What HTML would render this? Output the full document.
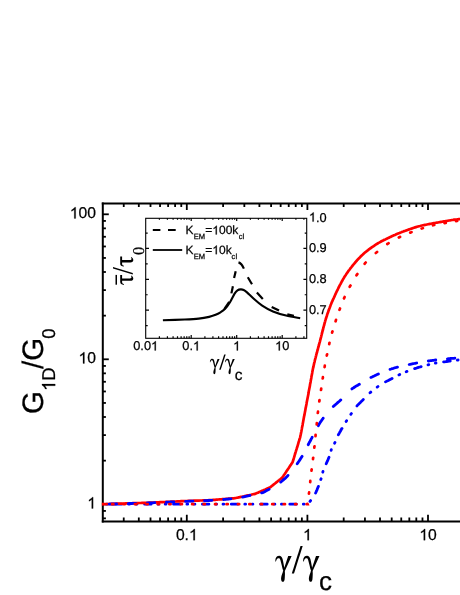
<!DOCTYPE html>
<html><head><meta charset="utf-8"><title>chart</title>
<style>html,body{margin:0;padding:0;background:#fff}svg{display:block}text{filter:grayscale(1);text-rendering:geometricPrecision;stroke:#000;stroke-width:0.25px}</style></head>
<body>
<svg width="460" height="595" viewBox="0 0 460 595">
<rect width="460" height="595" fill="#fff"/>
<g stroke="#000" stroke-width="2" fill="none" stroke-linecap="butt">
<path d="M102.8,522.45 V202.5"/>
<path d="M101.8,203.5 H460"/>
<path d="M101.8,521.45 H460"/>
</g>
<g stroke="#000" stroke-width="1.8" fill="none">
<path d="M123.74,521.45 v-4.0 M123.74,203.5 v3.5"/>
<path d="M138.81,521.45 v-4.0 M138.81,203.5 v3.5"/>
<path d="M150.50,521.45 v-4.0 M150.50,203.5 v3.5"/>
<path d="M160.05,521.45 v-4.0 M160.05,203.5 v3.5"/>
<path d="M168.12,521.45 v-4.0 M168.12,203.5 v3.5"/>
<path d="M175.11,521.45 v-4.0 M175.11,203.5 v3.5"/>
<path d="M181.28,521.45 v-4.0 M181.28,203.5 v3.5"/>
<path d="M186.80,521.45 v-6.8 M186.80,203.5 v6.5"/>
<path d="M223.10,521.45 v-4.0 M223.10,203.5 v3.5"/>
<path d="M244.34,521.45 v-4.0 M244.34,203.5 v3.5"/>
<path d="M259.41,521.45 v-4.0 M259.41,203.5 v3.5"/>
<path d="M271.10,521.45 v-4.0 M271.10,203.5 v3.5"/>
<path d="M280.65,521.45 v-4.0 M280.65,203.5 v3.5"/>
<path d="M288.72,521.45 v-4.0 M288.72,203.5 v3.5"/>
<path d="M295.71,521.45 v-4.0 M295.71,203.5 v3.5"/>
<path d="M301.88,521.45 v-4.0 M301.88,203.5 v3.5"/>
<path d="M307.40,521.45 v-6.8 M307.40,203.5 v6.5"/>
<path d="M343.70,521.45 v-4.0 M343.70,203.5 v3.5"/>
<path d="M364.94,521.45 v-4.0 M364.94,203.5 v3.5"/>
<path d="M380.01,521.45 v-4.0 M380.01,203.5 v3.5"/>
<path d="M391.70,521.45 v-4.0 M391.70,203.5 v3.5"/>
<path d="M401.25,521.45 v-4.0 M401.25,203.5 v3.5"/>
<path d="M409.32,521.45 v-4.0 M409.32,203.5 v3.5"/>
<path d="M416.31,521.45 v-4.0 M416.31,203.5 v3.5"/>
<path d="M422.48,521.45 v-4.0 M422.48,203.5 v3.5"/>
<path d="M428.00,521.45 v-6.8 M428.00,203.5 v6.5"/>
<path d="M102.7,518.35 h3.2"/>
<path d="M102.7,510.93 h3.2"/>
<path d="M102.7,504.30 h6.1"/>
<path d="M102.7,460.65 h3.2"/>
<path d="M102.7,435.12 h3.2"/>
<path d="M102.7,417.00 h3.2"/>
<path d="M102.7,402.95 h3.2"/>
<path d="M102.7,391.47 h3.2"/>
<path d="M102.7,381.76 h3.2"/>
<path d="M102.7,373.35 h3.2"/>
<path d="M102.7,365.93 h3.2"/>
<path d="M102.7,359.30 h6.1"/>
<path d="M102.7,315.65 h3.2"/>
<path d="M102.7,290.12 h3.2"/>
<path d="M102.7,272.00 h3.2"/>
<path d="M102.7,257.95 h3.2"/>
<path d="M102.7,246.47 h3.2"/>
<path d="M102.7,236.76 h3.2"/>
<path d="M102.7,228.35 h3.2"/>
<path d="M102.7,220.93 h3.2"/>
<path d="M102.7,214.30 h6.1"/>
</g>
<clipPath id="pc"><rect x="101.9" y="204.5" width="360" height="315.9"/></clipPath><g clip-path="url(#pc)">
<path d="M106.5,504.2 L107.3,504.2 M115.0,504.2 L116.1,504.2 L117.1,504.2 L118.1,504.2 L119.1,504.2 L120.1,504.2 L121.1,504.2 L121.7,504.2 M128.7,504.2 L129.5,504.2 M136.1,504.2 L136.9,504.2 M144.6,504.2 L145.7,504.2 L146.7,504.2 L147.7,504.2 L148.7,504.2 L149.7,504.2 L150.7,504.2 L151.1,504.2 M158.0,504.2 L158.8,504.2 M165.2,504.2 L166.0,504.2 M173.5,504.2 L174.5,504.2 L175.5,504.2 L176.5,504.2 L177.5,504.2 L178.5,504.2 L179.5,504.2 L180.0,504.2 M186.9,504.2 L187.7,504.2 M194.1,504.2 L194.9,504.2 M202.4,504.2 L203.5,504.2 L204.5,504.2 L205.6,504.2 L206.6,504.2 L207.6,504.2 L208.6,504.2 L208.9,504.2 M215.8,504.2 L216.6,504.2 M223.0,504.2 L223.8,504.2 M231.3,504.2 L232.4,504.2 L233.4,504.2 L234.4,504.2 L235.4,504.2 L236.4,504.2 L237.4,504.2 L237.9,504.2 M244.8,504.2 L245.6,504.2 M252.2,504.2 L252.9,504.2 M260.6,504.2 L261.6,504.2 L262.6,504.2 L263.6,504.2 L264.6,504.2 L265.6,504.2 L266.6,504.2 L267.2,504.2 M274.1,504.2 L274.9,504.2 M281.4,504.2 L282.2,504.2 M289.8,504.2 L291.0,504.2 L292.0,504.2 L293.0,504.2 L294.0,504.2 L295.0,504.2 L296.0,504.2 L296.4,504.2 M303.3,504.2 L304.1,504.2 M310.0,501.4 L310.6,500.6 M315.6,493.0 L316.0,492.1 L316.4,491.1 L316.9,490.1 L317.3,489.1 L317.7,488.1 L318.1,487.1 L318.4,486.4 M320.8,479.5 L321.1,478.7 M322.8,472.2 L323.0,471.4 M326.2,463.8 L326.6,462.9 L327.0,461.9 L327.5,460.9 L327.9,459.9 L328.3,458.9 L328.7,457.9 L329.0,457.3 M331.1,450.4 L331.3,449.6 M334.6,443.2 L335.0,442.4 M338.3,434.9 L338.8,434.0 L339.3,433.1 L339.8,432.1 L340.4,431.2 L340.9,430.3 L341.4,429.3 L341.9,428.5 L342.0,428.4 M346.1,421.5 L346.6,420.7 M350.8,414.3 L351.4,413.5 M356.9,406.0 L357.6,405.1 L358.3,404.4 L359.1,403.7 L359.8,402.9 L360.6,402.2 L361.3,401.4 L362.1,400.7 L362.8,400.0 L363.3,399.5 M370.0,392.8 L370.8,392.1 M377.2,387.1 L378.0,386.5 M385.5,381.9 L386.4,381.4 L387.3,380.9 L388.3,380.5 L389.2,380.0 L390.1,379.5 L391.1,379.0 L392.0,378.6 L392.1,378.5 M398.9,374.9 L399.7,374.5 M406.2,371.7 L407.0,371.4 M414.6,368.6 L415.6,368.3 L416.6,368.0 L417.6,367.6 L418.6,367.3 L419.6,367.0 L420.6,366.8 L421.1,366.6 M428.0,364.9 L428.8,364.7 M435.3,363.1 L436.0,363.0 M443.6,361.9 L444.7,361.8 L445.7,361.7 L446.8,361.5 L447.9,361.4 L449.0,361.2 L450.0,361.1 L450.3,361.1 M457.3,360.1 L458.1,360.0" fill="none" stroke="#0000ff" stroke-width="2.8" stroke-linecap="round"/>
<path d="M101.5,504.2 L102.5,504.2 L103.5,504.1 L104.5,504.1 L105.5,504.1 L106.6,504.0 L107.6,504.0 L108.6,504.0 L109.6,503.9 L110.6,503.9 L111.6,503.9 L112.6,503.9 L113.6,503.8 L114.6,503.8 L115.6,503.8 L116.7,503.7 L117.7,503.7 L118.7,503.7 L119.7,503.6 L120.7,503.6 L121.7,503.6 L122.7,503.5 L123.7,503.5 L124.7,503.5 L125.8,503.4 L126.8,503.4 L127.8,503.4 L128.8,503.4 L129.8,503.3 L130.8,503.3 L131.8,503.3 L132.8,503.2 L133.8,503.2 L134.8,503.2 L135.9,503.1 L136.9,503.1 L137.9,503.1 L138.9,503.0 L139.9,503.0 L140.9,503.0 L141.9,502.9 L142.9,502.9 L143.9,502.9 L144.9,502.9 L146.0,502.8 L147.0,502.8 L148.0,502.8 L149.0,502.7 L150.0,502.7 L151.0,502.7 L152.0,502.6 L153.0,502.6 L154.0,502.5 L155.0,502.5 L156.0,502.4 L157.0,502.4 L158.0,502.3 L159.0,502.3 L160.0,502.2 L161.0,502.2 L162.0,502.1 L163.0,502.1 L164.0,502.0 L165.0,502.0 L166.0,501.9 L167.0,501.9 L168.0,501.9 L169.0,501.8 L170.0,501.8 L171.0,501.7 L172.0,501.7 L173.0,501.6 L174.0,501.6 L175.0,501.5 L176.0,501.5 L177.0,501.4 L178.0,501.4 L179.0,501.3 L180.0,501.3 L181.0,501.2 L182.0,501.2 L183.0,501.1 L184.0,501.1 L185.0,501.0 L186.0,501.0 L187.0,501.0 L188.0,500.9 L189.0,500.9 L190.0,500.9 L191.0,500.8 L192.0,500.8 L193.0,500.8 L194.0,500.7 L195.0,500.7 L196.0,500.7 L197.0,500.6 L198.0,500.6 L199.0,500.6 L200.0,500.5 L201.0,500.5 L202.0,500.5 L203.0,500.4 L204.0,500.4 L205.0,500.4 L206.0,500.3 L207.0,500.3 L208.0,500.3 L209.0,500.2 L210.0,500.2 L211.0,500.1 L212.1,500.0 L213.1,499.9 L214.1,499.9 L215.2,499.8 L216.2,499.7 L217.2,499.6 L218.3,499.5 L219.3,499.4 L220.3,499.4 L221.4,499.3 L222.4,499.2 L223.4,499.1 L224.5,499.0 L225.5,498.9 L226.5,498.9 L227.6,498.8 L228.6,498.7 L229.6,498.6 L230.7,498.5 L231.7,498.4 L232.7,498.4 L233.8,498.3 L234.8,498.2 L235.8,498.0 L236.8,497.8 L237.8,497.6 L238.8,497.3 L239.9,497.1 L240.9,496.9 L241.9,496.7 L242.9,496.5 L243.9,496.3 L244.9,496.0 L245.9,495.8 L246.9,495.6 L247.9,495.4 L248.9,495.2 L249.9,495.0 L251.0,494.8 L252.0,494.5 L253.0,494.3 L254.0,494.1 L255.0,493.9 L255.9,493.5 L256.9,493.1 L257.9,492.7 L258.8,492.2 L259.8,491.8 L260.7,491.4 L261.6,491.0 L262.6,490.6 L263.6,490.2 L264.5,489.8 L265.4,489.4 L266.4,488.9 L267.3,488.5 L268.3,488.1 L269.2,487.7 L270.2,487.3 L271.0,486.7 L271.8,486.0 L272.6,485.4 L273.4,484.7 L274.2,484.1 L275.0,483.5 L275.8,482.8 L276.6,482.2 L277.4,481.5 L278.2,480.9 L279.0,480.3 L279.8,479.6 L280.6,479.0 L281.4,478.3 L282.2,477.7 L282.8,476.8 L283.4,476.0 L283.9,475.1 L284.5,474.3 L285.1,473.4 L285.7,472.5 L286.2,471.7 L286.8,470.8 L287.4,469.9 L288.0,469.1 L288.6,468.2 L289.1,467.4 L289.7,466.5 L290.3,465.6 L290.9,464.8 L291.4,463.9 L292.0,463.1 L292.6,462.2 L292.9,461.2 L293.2,460.3 L293.5,459.3 L293.8,458.3 L294.1,457.4 L294.4,456.4 L294.6,455.4 L294.9,454.5 L295.2,453.5 L295.5,452.5 L295.8,451.6 L296.1,450.6 L296.4,449.6 L296.7,448.7 L297.0,447.7 L297.3,446.8 L297.6,445.8 L297.9,444.8 L298.2,443.9 L298.4,442.9 L298.7,441.9 L299.0,441.0 L299.3,440.0 L299.6,439.0 L299.9,438.1 L300.2,437.1 L300.3,436.6 L300.4,435.9 L300.6,435.2 L300.8,434.3 L301.0,433.1 L301.3,431.7 L301.6,430.0 L301.7,429.3 L301.9,428.5 L302.0,427.7 L302.2,426.8 L302.4,425.9 L302.6,424.9 L302.7,423.9 L302.9,422.9 L303.1,421.9 L303.3,420.8 L303.5,419.7 L303.7,418.6 L303.9,417.5 L304.1,416.3 L304.4,415.2 L304.6,414.1 L304.8,412.9 L305.0,411.8 L305.2,410.7 L305.4,409.8 L305.5,408.8 L305.7,407.9 L305.9,406.9 L306.1,406.0 L306.3,405.0 L306.5,404.0 L306.6,403.0 L306.8,402.0 L307.0,401.0 L307.2,400.0 L307.4,399.0 L307.6,397.9 L307.8,396.9 L308.0,395.9 L308.2,394.9 L308.4,393.9 L308.6,392.8 L308.7,391.8 L308.9,390.8 L309.1,389.8 L309.3,388.8 L309.5,387.8 L309.7,386.8 L309.9,385.8 L310.0,384.8 L310.2,383.8 L310.4,382.9 L310.6,381.9 L310.7,380.9 L310.9,379.9 L311.1,378.9 L311.3,378.0 L311.4,377.0 L311.6,376.0 L311.8,375.0 L312.0,374.0 L312.2,373.0 L312.3,372.0 L312.5,371.1 L312.7,370.1 L312.9,369.1 L313.1,368.0 L313.4,367.0 L313.6,366.0 L313.8,365.0 L314.0,364.1 L314.2,363.1 L314.5,362.1 L314.7,361.2 L314.9,360.2 L315.2,359.2 L315.4,358.3 L315.7,357.3 L315.9,356.3 L316.2,355.3 L316.4,354.3 L316.7,353.3 L317.0,352.4 L317.2,351.4 L317.5,350.4 L317.8,349.4 L318.0,348.4 L318.3,347.4 L318.6,346.5 L318.8,345.5 L319.1,344.5 L319.3,343.6 L319.6,342.6 L319.9,341.6 L320.1,340.7 L320.4,339.7 L320.6,338.6 L320.9,337.6 L321.2,336.6 L321.4,335.6 L321.7,334.5 L321.9,333.5 L322.2,332.5 L322.4,331.5 L322.7,330.5 L323.0,329.5 L323.2,328.4 L323.5,327.4 L323.7,326.4 L324.0,325.5 L324.3,324.5 L324.5,323.5 L324.8,322.5 L325.1,321.6 L325.3,320.6 L325.6,319.7 L325.9,318.7 L326.2,317.8 L326.5,316.8 L326.9,315.7 L327.2,314.7 L327.5,313.7 L327.9,312.8 L328.2,311.8 L328.5,310.8 L328.9,309.9 L329.2,309.0 L329.6,308.0 L329.9,307.1 L330.3,306.2 L330.6,305.2 L331.0,304.3 L331.4,303.3 L331.8,302.3 L332.2,301.4 L332.7,300.4 L333.1,299.3 L333.6,298.3 L334.0,297.5 L334.4,296.6 L334.8,295.7 L335.2,294.8 L335.6,293.9 L336.0,293.0 L336.4,292.1 L336.9,291.2 L337.3,290.3 L337.8,289.3 L338.2,288.4 L338.7,287.5 L339.1,286.6 L339.6,285.6 L340.1,284.7 L340.6,283.8 L341.1,282.8 L341.6,281.9 L342.1,281.0 L342.6,280.1 L343.1,279.2 L343.6,278.4 L344.1,277.5 L344.7,276.6 L345.2,275.8 L345.8,274.9 L346.3,274.1 L346.9,273.2 L347.5,272.4 L348.1,271.5 L348.7,270.6 L349.4,269.8 L350.0,269.0 L350.6,268.1 L351.3,267.3 L351.9,266.5 L352.6,265.7 L353.2,264.8 L353.9,264.1 L354.5,263.3 L355.2,262.5 L355.9,261.7 L356.5,261.0 L357.2,260.2 L357.8,259.5 L358.5,258.8 L359.1,258.1 L359.8,257.5 L360.4,256.8 L361.2,256.0 L362.0,255.2 L362.8,254.5 L363.6,253.7 L364.4,253.0 L365.2,252.3 L366.1,251.7 L366.9,251.0 L367.7,250.4 L368.5,249.7 L369.3,249.1 L370.1,248.5 L370.9,248.0 L371.7,247.4 L372.5,246.8 L373.3,246.3 L374.1,245.8 L374.9,245.2 L375.7,244.7 L376.6,244.1 L377.6,243.5 L378.6,242.9 L379.6,242.4 L380.6,241.8 L381.5,241.3 L382.5,240.8 L383.5,240.3 L384.4,239.8 L385.4,239.4 L386.3,238.9 L387.2,238.5 L388.1,238.1 L388.9,237.7 L389.7,237.3 L390.5,236.9 L391.8,236.3 L392.9,235.8 L393.9,235.3 L394.9,234.9 L395.8,234.5 L396.7,234.1 L397.6,233.7 L398.6,233.3 L399.6,232.9 L400.5,232.5 L401.4,232.2 L402.4,231.8 L403.3,231.5 L404.3,231.1 L405.3,230.8 L406.3,230.4 L407.2,230.1 L408.2,229.7 L409.1,229.4 L410.0,229.1 L411.1,228.7 L412.1,228.4 L413.1,228.0 L414.0,227.7 L415.0,227.4 L416.0,227.1 L417.0,226.8 L418.0,226.5 L419.1,226.2 L420.0,226.0 L421.0,225.7 L422.0,225.5 L423.0,225.3 L424.0,225.1 L425.0,224.9 L426.0,224.7 L427.0,224.5 L428.0,224.3 L429.0,224.1 L430.0,223.9 L431.0,223.7 L432.0,223.5 L433.0,223.3 L434.0,223.1 L435.0,223.0 L436.0,222.8 L437.0,222.6 L438.0,222.5 L439.0,222.3 L440.0,222.1 L441.0,221.9 L441.9,221.8 L442.9,221.6 L443.9,221.4 L444.9,221.2 L445.9,221.0 L446.9,220.9 L447.9,220.7 L448.9,220.5 L449.9,220.4 L450.9,220.2 L451.9,220.0 L453.1,219.9 L454.2,219.7 L455.4,219.6 L456.6,219.5 L457.7,219.3 L458.8,219.2 L459.8,219.1 L460.7,219.0 L461.4,218.9 L462.0,218.8" fill="none" stroke="#ff0000" stroke-width="2.7" stroke-linejoin="round"/>
<path d="M109.1,504.1 L110.2,504.1 L111.4,504.0 L112.6,504.0 L113.6,504.0 L114.6,503.9 L115.7,503.9 L116.6,503.9 M128.2,503.6 L129.4,503.5 L130.5,503.5 L131.7,503.5 L132.9,503.4 L134.1,503.4 L135.2,503.4 L135.7,503.3 M147.3,503.0 L148.4,503.0 L149.5,502.9 L150.7,502.9 L151.9,502.8 L153.0,502.8 L154.2,502.7 L154.8,502.7 M166.4,502.2 L167.5,502.2 L168.5,502.1 L169.5,502.1 L170.7,502.0 L171.9,502.0 L173.1,501.9 L173.9,501.9 M185.5,501.4 L186.7,501.3 L187.9,501.3 L189.1,501.2 L190.2,501.2 L191.3,501.1 L192.4,501.1 L193.0,501.1 M204.5,500.7 L205.6,500.6 L206.8,500.6 L208.0,500.5 L209.0,500.5 L210.0,500.4 L211.2,500.3 L212.0,500.3 M223.6,499.5 L224.6,499.4 L225.7,499.3 L226.7,499.2 L227.7,499.1 L228.7,499.0 L229.7,498.9 L230.9,498.8 L231.0,498.8 M242.6,497.1 L243.7,496.9 L244.8,496.6 L245.8,496.4 L246.9,496.2 L247.9,496.0 L248.9,495.7 L249.9,495.5 L250.0,495.5 M261.6,492.9 L262.7,492.6 L263.7,492.2 L264.7,491.7 L265.8,491.1 L266.7,490.6 L267.7,490.1 L268.6,489.6 L269.1,489.3 M280.7,482.1 L281.5,481.5 L282.3,480.8 L283.1,480.1 L283.9,479.4 L284.8,478.7 L285.6,477.9 L286.5,477.0 L287.3,476.2 L288.0,475.4 M297.2,463.8 L297.8,462.9 L298.4,462.0 L299.1,461.0 L299.7,460.2 L300.2,459.3 L300.8,458.4 L301.3,457.6 L301.8,456.7 L302.1,456.3 M308.2,444.7 L308.7,443.8 L309.1,442.9 L309.6,442.1 L310.1,441.2 L310.6,440.3 L311.0,439.4 L311.5,438.5 L312.0,437.6 L312.2,437.2 M318.3,425.7 L318.8,424.8 L319.4,423.8 L320.0,422.8 L320.6,421.8 L321.3,420.9 L321.9,420.0 L322.5,419.1 L323.2,418.3 L323.2,418.2 M333.3,406.6 L334.1,405.8 L334.9,405.1 L335.6,404.5 L336.5,403.7 L337.4,402.9 L338.2,402.2 L339.1,401.5 L339.9,400.7 L340.8,399.9 M351.9,388.9 L352.8,388.2 L353.7,387.7 L354.7,387.0 L355.7,386.4 L356.7,385.8 L357.8,385.2 L358.8,384.6 L359.4,384.3 M370.9,377.4 L372.0,376.9 L373.0,376.4 L374.1,375.9 L375.1,375.4 L376.2,374.9 L377.1,374.5 L378.1,374.1 L378.4,374.0 M390.0,369.3 L391.1,369.0 L392.2,368.6 L393.3,368.3 L394.3,368.0 L395.4,367.7 L396.5,367.4 L397.5,367.1 M409.2,364.5 L410.2,364.3 L411.2,364.1 L412.2,363.9 L413.2,363.7 L414.2,363.5 L415.2,363.3 L416.2,363.1 L416.7,363.0 M428.3,361.0 L429.4,360.8 L430.4,360.7 L431.4,360.6 L432.6,360.4 L433.6,360.3 L434.6,360.1 L435.7,360.0 L435.8,360.0 M447.4,358.8 L448.5,358.7 L449.6,358.6 L450.6,358.5 L451.7,358.4 L452.8,358.4 L453.9,358.3 L454.9,358.2" fill="none" stroke="#0000ff" stroke-width="2.8" stroke-linecap="round"/>
<path d="M101.5,504.2 L101.9,504.2 M112.1,504.2 L113.1,504.2 L113.4,504.2 M123.5,504.2 L124.5,504.2 L124.8,504.2 M134.9,504.2 L136.1,504.2 L136.2,504.2 M146.4,504.2 L147.5,504.2 L147.7,504.2 M157.8,504.2 L158.9,504.2 L159.1,504.2 M169.3,504.2 L170.3,504.2 L170.6,504.2 M180.7,504.2 L181.7,504.2 L182.0,504.2 M192.1,504.2 L193.3,504.2 L193.4,504.2 M203.6,504.2 L204.8,504.2 L204.9,504.2 M215.0,504.2 L216.2,504.2 L216.3,504.2 M226.5,504.2 L227.6,504.2 L227.8,504.2 M237.9,504.2 L239.0,504.2 L239.2,504.2 M249.3,504.2 L250.4,504.2 L250.6,504.2 M260.8,504.2 L262.0,504.2 L262.1,504.2 M272.2,504.2 L273.4,504.2 L273.5,504.2 M283.7,504.2 L284.8,504.2 L285.0,504.2 M295.1,504.2 L296.2,504.2 L296.4,504.2 M306.6,504.2 L307.6,504.2 L307.5,503.9 M308.9,493.7 L309.1,492.7 L309.1,492.4 M310.2,482.2 L310.3,481.2 L310.3,480.9 M311.5,470.7 L311.6,469.6 L311.7,469.4 M313.0,459.1 L313.1,458.1 L313.2,457.8 M314.3,447.6 L314.4,446.5 L314.5,446.3 M315.5,436.1 L315.6,434.9 L315.6,434.8 M316.7,424.5 L316.8,423.4 L316.8,423.2 M317.8,413.0 L318.0,411.9 L318.0,411.7 M319.3,401.5 L319.5,400.3 L319.5,400.2 M321.0,390.0 L321.2,388.9 L321.2,388.6 M322.7,378.5 L322.9,377.5 L322.9,377.2 M324.6,367.1 L324.8,365.9 L324.8,365.7 M326.8,355.6 L327.0,354.5 L327.1,354.3 M329.2,344.2 L329.4,343.1 L329.5,342.8 M332.1,332.7 L332.4,331.6 L332.5,331.4 M335.6,321.3 L335.9,320.2 L336.0,319.9 M339.5,309.8 L339.9,308.8 L340.0,308.5 M344.0,298.4 L344.5,297.3 L344.6,297.0 M349.7,286.8 L350.3,285.8 L350.5,285.5 M356.5,275.3 L357.1,274.4 L357.4,274.0 M364.6,263.8 L365.3,263.0 L365.7,262.5 M375.8,253.0 L376.7,252.3 L377.1,251.9 M387.3,244.0 L388.3,243.4 L388.6,243.2 M398.8,237.5 L399.8,237.0 L400.1,236.9 M410.2,232.6 L411.2,232.3 L411.5,232.1 M421.6,228.5 L422.7,228.2 L422.9,228.1 M433.0,225.3 L434.2,225.0 L434.3,225.0 M444.5,223.1 L445.5,222.9 L445.8,222.9 M455.9,221.1 L457.0,220.9 L457.2,220.9" fill="none" stroke="#ff0000" stroke-width="2.7" stroke-linecap="round"/>
</g>
<g font-family="'Liberation Sans', sans-serif" font-size="15.7px" fill="#000">
<path transform="translate(69.81,218.40) scale(0.00767,-0.00767)" d="M763 0 L583 0 L583 1147 Q518 1085 412.5 1023 Q307 961 223 930 L223 1104 Q374 1175 487 1276 Q600 1377 647 1466 L763 1466 Z" stroke="#000" stroke-width="33"/><text x="78.54" y="218.40" font-size="15.70px">00</text>
<path transform="translate(78.54,363.40) scale(0.00767,-0.00767)" d="M763 0 L583 0 L583 1147 Q518 1085 412.5 1023 Q307 961 223 930 L223 1104 Q374 1175 487 1276 Q600 1377 647 1466 L763 1466 Z" stroke="#000" stroke-width="33"/><text x="87.27" y="363.40" font-size="15.70px">0</text>
<path transform="translate(87.27,508.40) scale(0.00767,-0.00767)" d="M763 0 L583 0 L583 1147 Q518 1085 412.5 1023 Q307 961 223 930 L223 1104 Q374 1175 487 1276 Q600 1377 647 1466 L763 1466 Z" stroke="#000" stroke-width="33"/>
<text x="175.89" y="540.20" font-size="15.70px">0.</text><path transform="translate(188.98,540.20) scale(0.00767,-0.00767)" d="M763 0 L583 0 L583 1147 Q518 1085 412.5 1023 Q307 961 223 930 L223 1104 Q374 1175 487 1276 Q600 1377 647 1466 L763 1466 Z" stroke="#000" stroke-width="33"/>
<path transform="translate(303.04,540.20) scale(0.00767,-0.00767)" d="M763 0 L583 0 L583 1147 Q518 1085 412.5 1023 Q307 961 223 930 L223 1104 Q374 1175 487 1276 Q600 1377 647 1466 L763 1466 Z" stroke="#000" stroke-width="33"/>
<path transform="translate(419.27,540.20) scale(0.00767,-0.00767)" d="M763 0 L583 0 L583 1147 Q518 1085 412.5 1023 Q307 961 223 930 L223 1104 Q374 1175 487 1276 Q600 1377 647 1466 L763 1466 Z" stroke="#000" stroke-width="33"/><text x="428.00" y="540.20" font-size="15.70px">0</text>
</g>
<path d="M0.23,6.39 C0.28,5.88 0.23,4.22 0.53,3.36 C0.83,2.50 1.44,1.70 2.04,1.25 C2.65,0.80 3.46,0.59 4.16,0.64 C4.87,0.69 5.72,0.99 6.27,1.55 C6.82,2.10 7.13,2.86 7.48,3.97 C7.83,5.08 8.10,6.76 8.39,8.20 C8.68,9.64 9.06,11.87 9.20,12.60 L13.1,0.95 L16.55,0.95 L9.75,15.9 C9.77,16.30 9.85,17.42 9.85,18.30 C9.85,19.18 9.81,20.16 9.75,21.20 C9.69,22.24 9.66,23.67 9.48,24.53 C9.30,25.39 8.99,25.99 8.69,26.34 C8.39,26.69 8.01,26.69 7.66,26.64 C7.31,26.59 6.85,26.49 6.57,26.04 C6.29,25.59 5.98,24.84 5.97,23.92 C5.96,23.00 6.25,21.55 6.50,20.50 C6.75,19.45 7.22,18.43 7.50,17.60 C7.78,16.77 8.04,15.85 8.15,15.50 C8.01,15.09 7.61,14.12 7.30,13.04 C6.99,11.96 6.62,10.26 6.30,9.00 C5.98,7.74 5.70,6.43 5.40,5.50 C5.10,4.57 4.88,3.78 4.50,3.40 C4.12,3.02 3.56,3.07 3.10,3.20 C2.64,3.33 2.12,3.67 1.74,4.20 C1.36,4.73 0.98,6.02 0.83,6.39 Z" transform="translate(275.1,555.1)"/>
<path d="M0.23,6.39 C0.28,5.88 0.23,4.22 0.53,3.36 C0.83,2.50 1.44,1.70 2.04,1.25 C2.65,0.80 3.46,0.59 4.16,0.64 C4.87,0.69 5.72,0.99 6.27,1.55 C6.82,2.10 7.13,2.86 7.48,3.97 C7.83,5.08 8.10,6.76 8.39,8.20 C8.68,9.64 9.06,11.87 9.20,12.60 L13.1,0.95 L16.55,0.95 L9.75,15.9 C9.77,16.30 9.85,17.42 9.85,18.30 C9.85,19.18 9.81,20.16 9.75,21.20 C9.69,22.24 9.66,23.67 9.48,24.53 C9.30,25.39 8.99,25.99 8.69,26.34 C8.39,26.69 8.01,26.69 7.66,26.64 C7.31,26.59 6.85,26.49 6.57,26.04 C6.29,25.59 5.98,24.84 5.97,23.92 C5.96,23.00 6.25,21.55 6.50,20.50 C6.75,19.45 7.22,18.43 7.50,17.60 C7.78,16.77 8.04,15.85 8.15,15.50 C8.01,15.09 7.61,14.12 7.30,13.04 C6.99,11.96 6.62,10.26 6.30,9.00 C5.98,7.74 5.70,6.43 5.40,5.50 C5.10,4.57 4.88,3.78 4.50,3.40 C4.12,3.02 3.56,3.07 3.10,3.20 C2.64,3.33 2.12,3.67 1.74,4.20 C1.36,4.73 0.98,6.02 0.83,6.39 Z" transform="translate(302.9,555.1)"/>
<path d="M291.8,573.5 L294.0,573.5 L302.7,546.1 L300.5,546.1 Z"/>
<text x="319" y="589.6" font-family="'Liberation Sans', sans-serif" font-size="26px">c</text>
<g transform="translate(43.2,413.5) rotate(-90)" font-family="'Liberation Sans', sans-serif" fill="#000">
<text x="-0.6" y="0" font-size="29.5px">G</text>
<path transform="translate(22.50,12.00) scale(0.00903,-0.00903)" d="M763 0 L583 0 L583 1147 Q518 1085 412.5 1023 Q307 961 223 930 L223 1104 Q374 1175 487 1276 Q600 1377 647 1466 L763 1466 Z" stroke="#000" stroke-width="28"/><text x="32.79" y="12.00" font-size="18.50px">D</text>
<text x="44.5" y="0" font-size="29.5px">/G</text>
<text x="74.7" y="12" font-size="18.5px">0</text>
</g>
<rect x="145.7" y="218.3" width="161" height="120.0" fill="#fff" stroke="#000" stroke-width="1.1"/>
<g stroke="#000" stroke-width="1.2" fill="none">
<path d="M159.40,338.3 v-2.0 M159.40,218.3 v1.5"/>
<path d="M167.41,338.3 v-2.0 M167.41,218.3 v1.5"/>
<path d="M173.09,338.3 v-2.0 M173.09,218.3 v1.5"/>
<path d="M177.50,338.3 v-2.0 M177.50,218.3 v1.5"/>
<path d="M181.11,338.3 v-2.0 M181.11,218.3 v1.5"/>
<path d="M184.15,338.3 v-2.0 M184.15,218.3 v1.5"/>
<path d="M186.79,338.3 v-2.0 M186.79,218.3 v1.5"/>
<path d="M189.12,338.3 v-2.0 M189.12,218.3 v1.5"/>
<path d="M191.20,338.3 v-3.3 M191.20,218.3 v2.7"/>
<path d="M204.90,338.3 v-2.0 M204.90,218.3 v1.5"/>
<path d="M212.91,338.3 v-2.0 M212.91,218.3 v1.5"/>
<path d="M218.59,338.3 v-2.0 M218.59,218.3 v1.5"/>
<path d="M223.00,338.3 v-2.0 M223.00,218.3 v1.5"/>
<path d="M226.61,338.3 v-2.0 M226.61,218.3 v1.5"/>
<path d="M229.65,338.3 v-2.0 M229.65,218.3 v1.5"/>
<path d="M232.29,338.3 v-2.0 M232.29,218.3 v1.5"/>
<path d="M234.62,338.3 v-2.0 M234.62,218.3 v1.5"/>
<path d="M236.70,338.3 v-3.3 M236.70,218.3 v2.7"/>
<path d="M250.40,338.3 v-2.0 M250.40,218.3 v1.5"/>
<path d="M258.41,338.3 v-2.0 M258.41,218.3 v1.5"/>
<path d="M264.09,338.3 v-2.0 M264.09,218.3 v1.5"/>
<path d="M268.50,338.3 v-2.0 M268.50,218.3 v1.5"/>
<path d="M272.11,338.3 v-2.0 M272.11,218.3 v1.5"/>
<path d="M275.15,338.3 v-2.0 M275.15,218.3 v1.5"/>
<path d="M277.79,338.3 v-2.0 M277.79,218.3 v1.5"/>
<path d="M280.12,338.3 v-2.0 M280.12,218.3 v1.5"/>
<path d="M282.20,338.3 v-3.3 M282.20,218.3 v2.7"/>
<path d="M295.90,338.3 v-2.0 M295.90,218.3 v1.5"/>
<path d="M303.91,338.3 v-2.0 M303.91,218.3 v1.5"/>
<path d="M145.7,233.03 h2.0 M306.7,233.03 h-2.0"/>
<path d="M145.7,248.45 h3.3 M306.7,248.45 h-3.3"/>
<path d="M145.7,263.88 h2.0 M306.7,263.88 h-2.0"/>
<path d="M145.7,279.30 h3.3 M306.7,279.30 h-3.3"/>
<path d="M145.7,294.73 h2.0 M306.7,294.73 h-2.0"/>
<path d="M145.7,310.15 h3.3 M306.7,310.15 h-3.3"/>
<path d="M145.7,325.58 h2.0 M306.7,325.58 h-2.0"/>
</g>
<g font-family="'Liberation Sans', sans-serif" font-size="12.8px" fill="#000">
<path transform="translate(308.90,221.60) scale(0.00625,-0.00625)" d="M763 0 L583 0 L583 1147 Q518 1085 412.5 1023 Q307 961 223 930 L223 1104 Q374 1175 487 1276 Q600 1377 647 1466 L763 1466 Z" stroke="#000" stroke-width="40"/><text x="316.02" y="221.60" font-size="12.80px">.0</text>
<text x="308.90" y="252.45" font-size="12.80px">0.9</text>
<text x="308.90" y="283.30" font-size="12.80px">0.8</text>
<text x="308.90" y="314.15" font-size="12.80px">0.7</text>
<text x="133.25" y="350.40" font-size="12.80px">0.0</text><path transform="translate(151.04,350.40) scale(0.00625,-0.00625)" d="M763 0 L583 0 L583 1147 Q518 1085 412.5 1023 Q307 961 223 930 L223 1104 Q374 1175 487 1276 Q600 1377 647 1466 L763 1466 Z" stroke="#000" stroke-width="40"/>
<text x="182.30" y="350.40" font-size="12.80px">0.</text><path transform="translate(192.98,350.40) scale(0.00625,-0.00625)" d="M763 0 L583 0 L583 1147 Q518 1085 412.5 1023 Q307 961 223 930 L223 1104 Q374 1175 487 1276 Q600 1377 647 1466 L763 1466 Z" stroke="#000" stroke-width="40"/>
<path transform="translate(233.14,350.40) scale(0.00625,-0.00625)" d="M763 0 L583 0 L583 1147 Q518 1085 412.5 1023 Q307 961 223 930 L223 1104 Q374 1175 487 1276 Q600 1377 647 1466 L763 1466 Z" stroke="#000" stroke-width="40"/>
<path transform="translate(275.08,350.40) scale(0.00625,-0.00625)" d="M763 0 L583 0 L583 1147 Q518 1085 412.5 1023 Q307 961 223 930 L223 1104 Q374 1175 487 1276 Q600 1377 647 1466 L763 1466 Z" stroke="#000" stroke-width="40"/><text x="282.20" y="350.40" font-size="12.80px">0</text>
</g>
<path d="M162.90,320.30 C166.55,320.17 178.83,319.78 184.80,319.50 C190.77,319.22 194.65,319.03 198.70,318.60 C202.75,318.17 206.38,317.50 209.10,316.90 C211.82,316.30 213.10,315.77 215.00,315.00 C216.90,314.23 218.82,313.33 220.50,312.30 C222.18,311.27 223.52,310.48 225.10,308.80 C226.68,307.12 228.42,304.73 230.00,302.20 C231.58,299.67 233.35,295.57 234.60,293.60 C235.85,291.63 236.48,291.10 237.50,290.40 C238.52,289.70 239.67,289.47 240.70,289.40 C241.73,289.33 242.65,289.50 243.70,290.00 C244.75,290.50 245.37,290.98 247.00,292.40 C248.63,293.82 250.97,296.30 253.50,298.50 C256.03,300.70 258.95,303.43 262.20,305.60 C265.45,307.77 269.02,309.83 273.00,311.50 C276.98,313.17 281.57,314.47 286.10,315.60 C290.63,316.73 297.85,317.85 300.20,318.30" fill="none" stroke="#000" stroke-width="2.1"/>
<path d="M224.3,309 L229.2,301.9" stroke="#000" stroke-width="2.2" fill="none"/>
<path d="M231.4,293.4 L232.9,286.2" stroke="#000" stroke-width="2.2" fill="none"/>
<path d="M234.1,278.0 L235.7,271.2" stroke="#000" stroke-width="2.2" fill="none"/>
<path d="M238.5,262.4 Q241.6,263.3 243.9,268.6" stroke="#000" stroke-width="2.2" fill="none"/>
<path d="M247.8,277.3 L252.0,284.2" stroke="#000" stroke-width="2.2" fill="none"/>
<path d="M256.9,292.5 L262.8,299.0" stroke="#000" stroke-width="2.2" fill="none"/>
<path d="M271.7,307.0 L279.0,310.6" stroke="#000" stroke-width="2.2" fill="none"/>
<path d="M287.3,314.4 L293.9,315.9" stroke="#000" stroke-width="2.2" fill="none"/>
<path d="M152.8,230 h7.6 M168,230 h7.7" stroke="#000" stroke-width="1.8"/>
<path d="M152.8,250 h29.4" stroke="#000" stroke-width="1.8"/>
<g font-family="'Liberation Sans', sans-serif" fill="#000">
<text x="185.6" y="234.4" font-size="12px">K</text>
<text x="193.8" y="239.3" font-size="7.6px">EM</text>
<text x="205.30" y="234.40" font-size="12.00px">=</text><path transform="translate(212.31,234.40) scale(0.00586,-0.00586)" d="M763 0 L583 0 L583 1147 Q518 1085 412.5 1023 Q307 961 223 930 L223 1104 Q374 1175 487 1276 Q600 1377 647 1466 L763 1466 Z" stroke="#000" stroke-width="43"/><text x="218.98" y="234.40" font-size="12.00px">00k</text>
<text x="238.8" y="238.7" font-size="7.6px">cl</text>
<text x="185.6" y="254.2" font-size="12px">K</text>
<text x="193.8" y="259.1" font-size="7.6px">EM</text>
<text x="205.30" y="254.20" font-size="12.00px">=</text><path transform="translate(212.31,254.20) scale(0.00586,-0.00586)" d="M763 0 L583 0 L583 1147 Q518 1085 412.5 1023 Q307 961 223 930 L223 1104 Q374 1175 487 1276 Q600 1377 647 1466 L763 1466 Z" stroke="#000" stroke-width="43"/><text x="218.98" y="254.20" font-size="12.00px">0k</text>
<text x="231.6" y="258.5" font-size="7.6px">cl</text>
</g>
<path d="M0.23,6.39 C0.28,5.88 0.23,4.22 0.53,3.36 C0.83,2.50 1.44,1.70 2.04,1.25 C2.65,0.80 3.46,0.59 4.16,0.64 C4.87,0.69 5.72,0.99 6.27,1.55 C6.82,2.10 7.13,2.86 7.48,3.97 C7.83,5.08 8.10,6.76 8.39,8.20 C8.68,9.64 9.06,11.87 9.20,12.60 L13.1,0.95 L16.55,0.95 L9.75,15.9 C9.77,16.30 9.85,17.42 9.85,18.30 C9.85,19.18 9.81,20.16 9.75,21.20 C9.69,22.24 9.66,23.67 9.48,24.53 C9.30,25.39 8.99,25.99 8.69,26.34 C8.39,26.69 8.01,26.69 7.66,26.64 C7.31,26.59 6.85,26.49 6.57,26.04 C6.29,25.59 5.98,24.84 5.97,23.92 C5.96,23.00 6.25,21.55 6.50,20.50 C6.75,19.45 7.22,18.43 7.50,17.60 C7.78,16.77 8.04,15.85 8.15,15.50 C8.01,15.09 7.61,14.12 7.30,13.04 C6.99,11.96 6.62,10.26 6.30,9.00 C5.98,7.74 5.70,6.43 5.40,5.50 C5.10,4.57 4.88,3.78 4.50,3.40 C4.12,3.02 3.56,3.07 3.10,3.20 C2.64,3.33 2.12,3.67 1.74,4.20 C1.36,4.73 0.98,6.02 0.83,6.39 Z" transform="translate(209.8,358.4) scale(0.59)"/>
<path d="M0.23,6.39 C0.28,5.88 0.23,4.22 0.53,3.36 C0.83,2.50 1.44,1.70 2.04,1.25 C2.65,0.80 3.46,0.59 4.16,0.64 C4.87,0.69 5.72,0.99 6.27,1.55 C6.82,2.10 7.13,2.86 7.48,3.97 C7.83,5.08 8.10,6.76 8.39,8.20 C8.68,9.64 9.06,11.87 9.20,12.60 L13.1,0.95 L16.55,0.95 L9.75,15.9 C9.77,16.30 9.85,17.42 9.85,18.30 C9.85,19.18 9.81,20.16 9.75,21.20 C9.69,22.24 9.66,23.67 9.48,24.53 C9.30,25.39 8.99,25.99 8.69,26.34 C8.39,26.69 8.01,26.69 7.66,26.64 C7.31,26.59 6.85,26.49 6.57,26.04 C6.29,25.59 5.98,24.84 5.97,23.92 C5.96,23.00 6.25,21.55 6.50,20.50 C6.75,19.45 7.22,18.43 7.50,17.60 C7.78,16.77 8.04,15.85 8.15,15.50 C8.01,15.09 7.61,14.12 7.30,13.04 C6.99,11.96 6.62,10.26 6.30,9.00 C5.98,7.74 5.70,6.43 5.40,5.50 C5.10,4.57 4.88,3.78 4.50,3.40 C4.12,3.02 3.56,3.07 3.10,3.20 C2.64,3.33 2.12,3.67 1.74,4.20 C1.36,4.73 0.98,6.02 0.83,6.39 Z" transform="translate(225.0,358.4) scale(0.59)"/>
<path d="M219.2,369.7 L220.7,369.7 L225.7,354.4 L224.2,354.4 Z"/>
<text x="234.7" y="379.6" font-family="'Liberation Sans', sans-serif" font-size="15.5px">c</text>
<g transform="translate(133.1,286) rotate(-90)" fill="#000">
<path d="M0.2,-9.3 C0.3,-11.5 1.2,-12.9 3,-12.9 L10.2,-12.9 L10.2,-11 L6.7,-11 L6.7,-3.2 C6.7,-2 7.3,-1.6 8,-1.6 C8.4,-1.6 8.8,-1.8 9.2,-2.2 L9.6,-1.7 C8.8,-0.6 7.8,0.2 6.6,0.2 C5,0.2 4.3,-0.8 4.3,-2.8 L4.3,-11 L3,-11 C1.8,-11 1.2,-10.3 0.9,-9.1 Z" transform="translate(0.9,0)"/>
<path d="M0.2,-9.3 C0.3,-11.5 1.2,-12.9 3,-12.9 L10.2,-12.9 L10.2,-11 L6.7,-11 L6.7,-3.2 C6.7,-2 7.3,-1.6 8,-1.6 C8.4,-1.6 8.8,-1.8 9.2,-2.2 L9.6,-1.7 C8.8,-0.6 7.8,0.2 6.6,0.2 C5,0.2 4.3,-0.8 4.3,-2.8 L4.3,-11 L3,-11 C1.8,-11 1.2,-10.3 0.9,-9.1 Z" transform="translate(19.3,0)"/>
<path d="M1.3,-16.85 H11.1" stroke="#000" stroke-width="1.5"/>
<path d="M11.4,-0.3 L13.1,-0.3 L19.1,-20.1 L17.4,-20.1 Z"/>
<text x="31.0" y="10.7" font-family="'Liberation Serif', serif" font-size="16.5px">0</text>
</g>
</svg>
</body></html>
